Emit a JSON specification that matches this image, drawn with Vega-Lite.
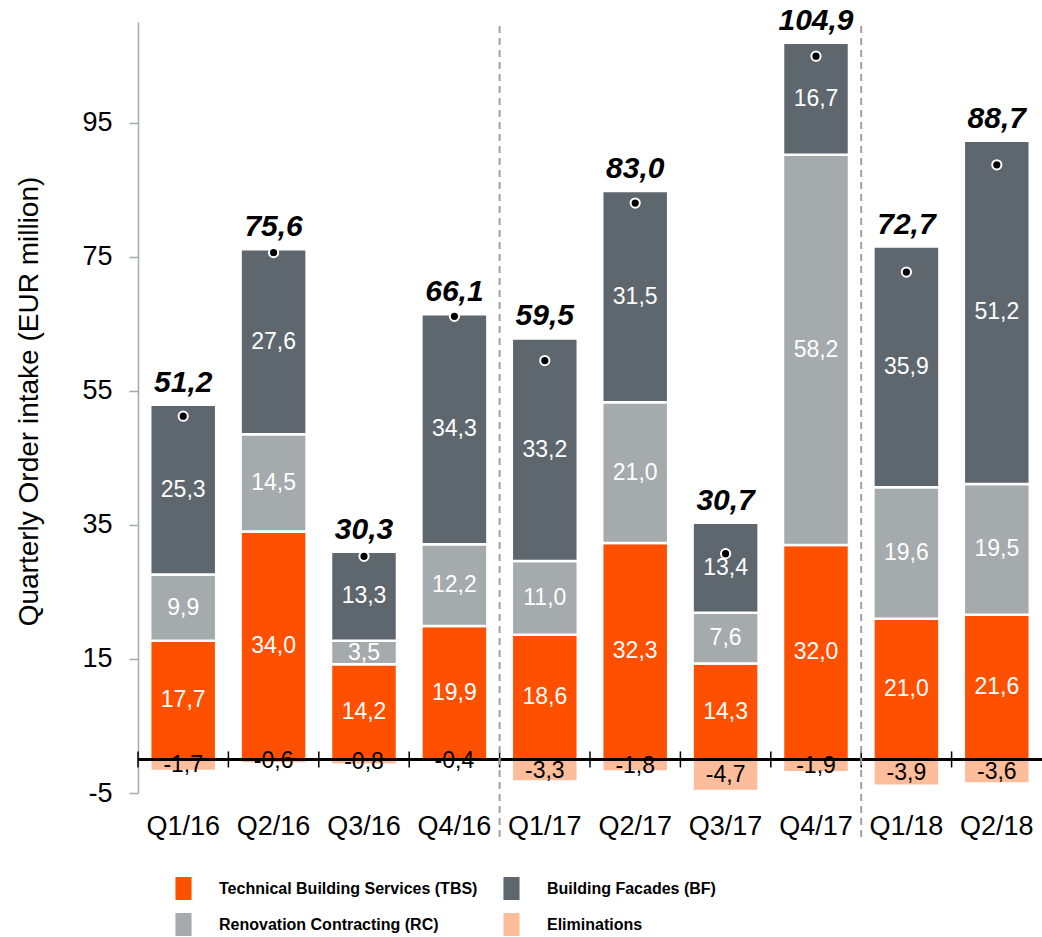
{
  "$schema": "https://vega.github.io/schema/vega-lite/v6.json",
  "width": 904,
  "height": 771,
  "autosize": {"type": "none"},
  "padding": {"left": 138, "top": 22, "right": 0, "bottom": 144},
  "config": {
    "view": {"stroke": null},
    "font": "Liberation Sans",
    "locale": {"number": {"decimal": ",", "thousands": ".", "grouping": [3], "currency": ["", "€"], "minus": "-"}}
  },
  "datasets": {
    "seg": [
      {"q": "Q1/16", "seg": "Technical Building Services (TBS)", "value": 17.7, "ord": 1},
      {"q": "Q1/16", "seg": "Renovation Contracting (RC)", "value": 9.9, "ord": 2},
      {"q": "Q1/16", "seg": "Building Facades (BF)", "value": 25.3, "ord": 3},
      {"q": "Q1/16", "seg": "Eliminations", "value": -1.7, "ord": 4},
      {"q": "Q2/16", "seg": "Technical Building Services (TBS)", "value": 34.0, "ord": 1},
      {"q": "Q2/16", "seg": "Renovation Contracting (RC)", "value": 14.5, "ord": 2},
      {"q": "Q2/16", "seg": "Building Facades (BF)", "value": 27.6, "ord": 3},
      {"q": "Q2/16", "seg": "Eliminations", "value": -0.6, "ord": 4},
      {"q": "Q3/16", "seg": "Technical Building Services (TBS)", "value": 14.2, "ord": 1},
      {"q": "Q3/16", "seg": "Renovation Contracting (RC)", "value": 3.5, "ord": 2},
      {"q": "Q3/16", "seg": "Building Facades (BF)", "value": 13.3, "ord": 3},
      {"q": "Q3/16", "seg": "Eliminations", "value": -0.8, "ord": 4},
      {"q": "Q4/16", "seg": "Technical Building Services (TBS)", "value": 19.9, "ord": 1},
      {"q": "Q4/16", "seg": "Renovation Contracting (RC)", "value": 12.2, "ord": 2},
      {"q": "Q4/16", "seg": "Building Facades (BF)", "value": 34.3, "ord": 3},
      {"q": "Q4/16", "seg": "Eliminations", "value": -0.4, "ord": 4},
      {"q": "Q1/17", "seg": "Technical Building Services (TBS)", "value": 18.6, "ord": 1},
      {"q": "Q1/17", "seg": "Renovation Contracting (RC)", "value": 11.0, "ord": 2},
      {"q": "Q1/17", "seg": "Building Facades (BF)", "value": 33.2, "ord": 3},
      {"q": "Q1/17", "seg": "Eliminations", "value": -3.3, "ord": 4},
      {"q": "Q2/17", "seg": "Technical Building Services (TBS)", "value": 32.3, "ord": 1},
      {"q": "Q2/17", "seg": "Renovation Contracting (RC)", "value": 21.0, "ord": 2},
      {"q": "Q2/17", "seg": "Building Facades (BF)", "value": 31.5, "ord": 3},
      {"q": "Q2/17", "seg": "Eliminations", "value": -1.8, "ord": 4},
      {"q": "Q3/17", "seg": "Technical Building Services (TBS)", "value": 14.3, "ord": 1},
      {"q": "Q3/17", "seg": "Renovation Contracting (RC)", "value": 7.6, "ord": 2},
      {"q": "Q3/17", "seg": "Building Facades (BF)", "value": 13.4, "ord": 3},
      {"q": "Q3/17", "seg": "Eliminations", "value": -4.7, "ord": 4},
      {"q": "Q4/17", "seg": "Technical Building Services (TBS)", "value": 32.0, "ord": 1},
      {"q": "Q4/17", "seg": "Renovation Contracting (RC)", "value": 58.2, "ord": 2},
      {"q": "Q4/17", "seg": "Building Facades (BF)", "value": 16.7, "ord": 3},
      {"q": "Q4/17", "seg": "Eliminations", "value": -1.9, "ord": 4},
      {"q": "Q1/18", "seg": "Technical Building Services (TBS)", "value": 21.0, "ord": 1},
      {"q": "Q1/18", "seg": "Renovation Contracting (RC)", "value": 19.6, "ord": 2},
      {"q": "Q1/18", "seg": "Building Facades (BF)", "value": 35.9, "ord": 3},
      {"q": "Q1/18", "seg": "Eliminations", "value": -3.9, "ord": 4},
      {"q": "Q2/18", "seg": "Technical Building Services (TBS)", "value": 21.6, "ord": 1},
      {"q": "Q2/18", "seg": "Renovation Contracting (RC)", "value": 19.5, "ord": 2},
      {"q": "Q2/18", "seg": "Building Facades (BF)", "value": 51.2, "ord": 3},
      {"q": "Q2/18", "seg": "Eliminations", "value": -3.6, "ord": 4}
    ],
    "tot": [
      {"q": "Q1/16", "total": 51.2},
      {"q": "Q2/16", "total": 75.6},
      {"q": "Q3/16", "total": 30.3},
      {"q": "Q4/16", "total": 66.1},
      {"q": "Q1/17", "total": 59.5},
      {"q": "Q2/17", "total": 83.0},
      {"q": "Q3/17", "total": 30.7},
      {"q": "Q4/17", "total": 104.9},
      {"q": "Q1/18", "total": 72.7},
      {"q": "Q2/18", "total": 88.7}
    ],
    "div": [{"q": "Q1/17"}, {"q": "Q1/18"}]
  },
  "layer": [
    {
      "data": {"name": "seg"},
      "mark": {"type": "bar", "width": {"band": 0.73}, "stroke": "white", "strokeWidth": 2.5},
      "encoding": {
        "x": {"field": "q", "type": "nominal", "sort": null,
          "scale": {"domain": ["Q1/16","Q2/16","Q3/16","Q4/16","Q1/17","Q2/17","Q3/17","Q4/17","Q1/18","Q2/18"], "paddingInner": 0, "paddingOuter": 0},
          "axis": {"domain": false, "ticks": false, "labelAngle": 0, "labelFontSize": 27, "labelPadding": 20, "labelColor": "black", "title": null}},
        "y": {"field": "value", "type": "quantitative", "stack": "zero",
          "scale": {"domain": [-5, 110], "nice": false, "zero": false},
          "axis": {"values": [-5, 15, 35, 55, 75, 95], "grid": false, "domainColor": "#A6A9AB", "domainWidth": 1.5, "tickColor": "#A6A9AB", "tickWidth": 1.5, "tickSize": 9, "labelFontSize": 27, "labelPadding": 17, "labelColor": "black", "format": "d",
            "title": "Quarterly Order intake (EUR million)", "titleFontSize": 28, "titleFontWeight": "normal", "titleColor": "black", "titlePadding": 38, "titleY": 379}},
        "color": {"field": "seg", "type": "nominal",
          "scale": {"domain": ["Technical Building Services (TBS)", "Renovation Contracting (RC)", "Building Facades (BF)", "Eliminations"],
                    "range": ["#FF5000", "#A5AAAC", "#5E676E", "#FDBC9A"]},
          "legend": {"orient": "none", "legendX": 34, "legendY": 855, "columns": 2, "title": null,
            "labelFont": "Liberation Sans", "labelFontSize": 16, "labelFontWeight": "bold", "labelColor": "black", "labelLimit": 400,
            "symbolType": "M-0.7,-1H0.7V1H-0.7Z", "symbolSize": 529, "symbolStrokeWidth": 0, "symbolOpacity": 1,
            "labelOffset": 24, "columnPadding": 22, "rowPadding": 13}},
        "order": {"field": "ord", "type": "quantitative"}
      }
    },
    {
      "data": {"name": "seg"},
      "mark": {"type": "text", "fontSize": 23, "baseline": "middle"},
      "encoding": {
        "x": {"field": "q", "type": "nominal", "sort": null},
        "y": {"field": "value", "type": "quantitative", "stack": "zero", "bandPosition": 0.5},
        "detail": {"field": "seg"},
        "order": {"field": "ord", "type": "quantitative"},
        "text": {"field": "value", "type": "quantitative", "format": ".1f"},
        "color": {"condition": {"test": "datum.value < 0", "value": "black"}, "value": "white"}
      }
    },
    {
      "data": {"name": "tot"},
      "mark": {"type": "rule", "color": "black", "strokeWidth": 1.5},
      "encoding": {
        "x": {"field": "q", "type": "nominal", "sort": null, "bandPosition": 0},
        "y": {"datum": -1.2},
        "y2": {"datum": 1.2}
      }
    },
    {
      "data": {"name": "tot"},
      "mark": {"type": "rule", "color": "black", "strokeWidth": 2},
      "encoding": {"y": {"datum": 0}}
    },
    {
      "data": {"name": "div"},
      "mark": {"type": "rule", "color": "#A0A0A0", "strokeWidth": 2, "strokeDash": [7, 5]},
      "encoding": {
        "x": {"field": "q", "type": "nominal", "sort": null, "bandPosition": 0},
        "y": {"datum": 109.4},
        "y2": {"datum": -12.3}
      }
    },
    {
      "data": {"name": "seg"},
      "transform": [
        {"filter": "datum.value > 0"},
        {"aggregate": [{"op": "sum", "field": "value", "as": "top"}], "groupby": ["q"]},
        {"lookup": "q", "from": {"data": {"name": "tot"}, "key": "q", "fields": ["total"]}}
      ],
      "mark": {"type": "text", "fontSize": 30, "fontWeight": "bold", "fontStyle": "italic", "baseline": "alphabetic", "dy": -13, "color": "black"},
      "encoding": {
        "x": {"field": "q", "type": "nominal", "sort": null},
        "y": {"field": "top", "type": "quantitative"},
        "text": {"field": "total", "type": "quantitative", "format": ".1f"}
      }
    },
    {
      "data": {"name": "tot"},
      "mark": {"type": "point", "shape": "circle", "filled": true, "fill": "black", "stroke": "white", "strokeWidth": 2, "size": 85, "opacity": 1},
      "encoding": {
        "x": {"field": "q", "type": "nominal", "sort": null},
        "y": {"field": "total", "type": "quantitative"}
      }
    }
  ]
}
